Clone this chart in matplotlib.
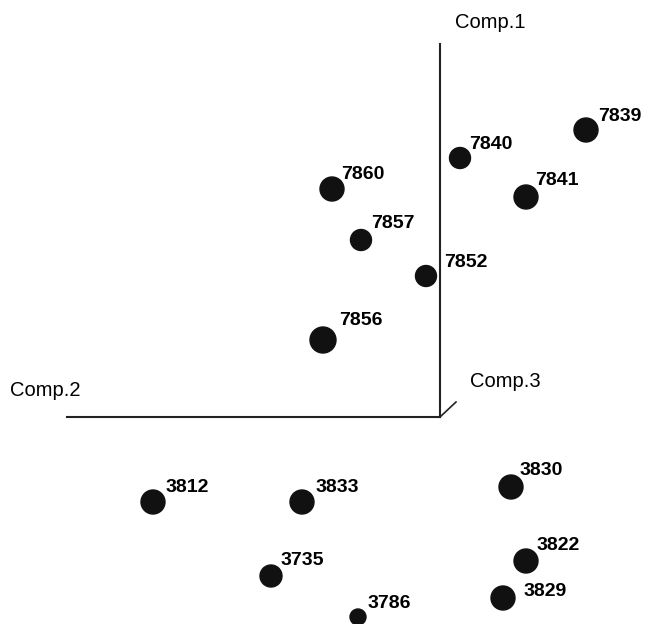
import matplotlib.pyplot as plt

plt.rcParams["font.family"] = ["Liberation Sans", "DejaVu Sans"]

# projected scores (origin at axis corner), units ~ 100 px
labels = ["7839", "7840", "7841", "7860", "7857", "7852", "7856",
          "3812", "3833", "3830", "3822", "3829", "3735", "3786"]
comp2 = [1.46, 0.20, 0.86, -1.08, -0.79, -0.14, -1.17,
         -2.87, -1.38, 0.71, 0.86, 0.63, -1.69, -0.82]
comp1 = [2.87, 2.59, 2.20, 2.28, 1.77, 1.41, 0.77,
         -0.85, -0.85, -0.70, -1.44, -1.81, -1.59, -2.00]
# marker diameter (px) as depth cue
diam = [24, 21, 24, 24, 21, 21, 26, 24, 24, 24, 24, 24, 22, 16]

# label offsets in px (right, up)
label_off = {
    "7839": (12, 9), "7840": (9, 9), "7841": (9, 12), "7860": (9, 10),
    "7857": (10, 12), "7852": (18, 9), "7856": (16, 15), "3812": (13, 10),
    "3833": (14, 10), "3830": (9, 12), "3822": (11, 11), "3829": (21, 2),
    "3735": (10, 11), "3786": (10, 9),
}

fig = plt.figure(figsize=(6.45, 6.24), dpi=100)
ax = fig.add_axes([0, 0, 1, 1])
ax.set_xlim(-4.40, 2.05)
ax.set_ylim(-2.07, 4.17)
ax.axis("off")

# axes of the 3d box
ax.plot([0, 0], [0, 3.73], color="#222222", lw=1.5)
ax.plot([-3.73, 0], [0, 0], color="#222222", lw=1.5)
ax.plot([0, 0.16], [0, 0.15], color="#222222", lw=1.2)
ax.text(0.50, 3.95, "Comp.1", fontsize=14.5, ha="center", va="center")
ax.text(-3.95, 0.27, "Comp.2", fontsize=14.5, ha="center", va="center")
ax.text(0.65, 0.36, "Comp.3", fontsize=14.5, ha="center", va="center")

sizes = [(d * 0.72) ** 2 for d in diam]
ax.scatter(comp2, comp1, s=sizes, color="#111111", zorder=3, clip_on=False)
for lab, x, y in zip(labels, comp2, comp1):
    dx, dy = label_off[lab]
    ax.annotate(lab, (x, y), xytext=(dx * 0.72, dy * 0.72), textcoords="offset points",
                ha="left", va="baseline", fontsize=14, fontweight="bold")

fig.savefig("out.png", dpi=100)
